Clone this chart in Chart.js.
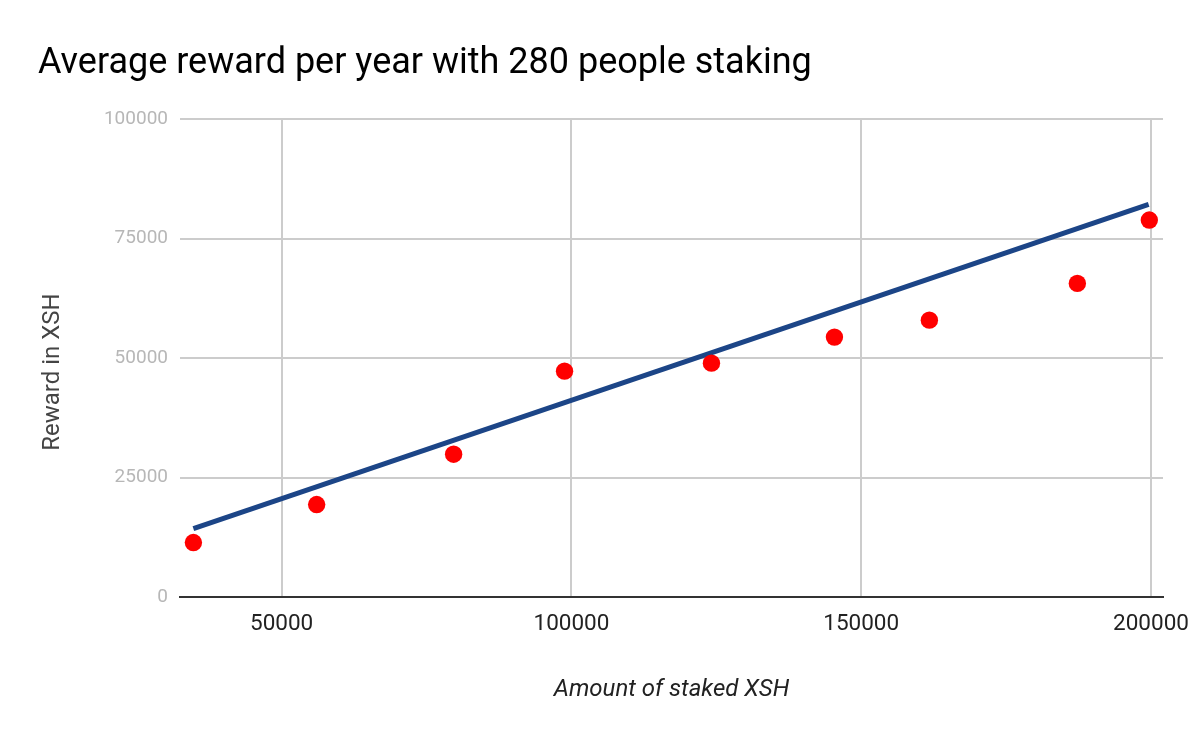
<!DOCTYPE html>
<html>
<head>
<meta charset="utf-8">
<title>Average reward per year</title>
<script src="https://cdn.jsdelivr.net/npm/chart.js@4.4.1/dist/chart.umd.min.js"></script>
<style>
  html, body { margin: 0; padding: 0; background: #fff; }
  #wrap { width: 1200px; height: 742px; position: relative; }
</style>
</head>
<body>
<div id="wrap"><canvas id="chart" width="1200" height="742"></canvas></div>
<script>
'use strict';

// ── data ──
const stakedXsh = [34770, 56040, 79670, 98810, 124160, 145380, 161760, 187290, 199710];
const rewardXsh = [11390, 19340, 29870, 47250, 48920, 54370, 57920, 65610, 78860];
const trendX = [34770, 199590];
const trendY = [14320, 82140];
const xTicks = [50000, 100000, 150000, 200000];
const yTicks = [0, 25000, 50000, 75000, 100000];

const chartTitle = 'Average reward per year with 280 people staking';
const xTitle = 'Amount of staked XSH';
const yTitle = 'Reward in XSH';

const FONT = 'Roboto, "Noto Sans", Arial, sans-serif';

// titles drawn at fixed spots, like the Google chart
const textPlugin = {
    id: 'texts',
    afterDraw(chart) {
        const { ctx, chartArea } = chart;
        ctx.save();
        ctx.fillStyle = '#000';
        ctx.font = `36px ${FONT}`;
        ctx.textAlign = 'left';
        ctx.textBaseline = 'alphabetic';
        ctx.fillText(chartTitle, 38, 73);

        ctx.fillStyle = '#222';
        ctx.font = `italic 24px ${FONT}`;
        ctx.textAlign = 'center';
        ctx.textBaseline = 'middle';
        ctx.fillText(xTitle, (chartArea.left + chartArea.right) / 2, 690);

        ctx.fillStyle = '#444';
        ctx.font = `24px ${FONT}`;
        ctx.translate(53, 372);
        ctx.rotate(-Math.PI / 2);
        ctx.fillText(yTitle, 0, 0);
        ctx.restore();
    }
};

const ctx = document.getElementById('chart');
new Chart(ctx, {
    type: 'scatter',
    data: {
        datasets: [
            {
                label: 'Trend',
                data: trendX.map((x, i) => ({ x, y: trendY[i] })),
                showLine: true,
                borderColor: '#1c4587',
                borderWidth: 5,
                pointRadius: 0,
                order: 1
            },
            {
                label: 'Reward',
                data: stakedXsh.map((x, i) => ({ x, y: rewardXsh[i] })),
                backgroundColor: '#ff0000',
                borderWidth: 0,
                pointRadius: 8.7,
                order: 0
            }
        ]
    },
    options: {
        responsive: false,
        animation: false,
        layout: { padding: { left: 0, top: 119, right: 37, bottom: 0 } },
        plugins: {
            legend: { display: false },
            tooltip: { enabled: false },
            title: { display: false }
        },
        scales: {
            x: {
                type: 'linear',
                min: 32460,
                max: 202070,
                afterBuildTicks: s => { s.ticks = xTicks.map(v => ({ value: v })); },
                afterFit: s => { s.height = 145; s.paddingLeft = 0; s.paddingRight = 0; },
                ticks: {
                    color: '#222',
                    font: { family: FONT, size: 22.5 },
                    padding: 14,
                    maxRotation: 0,
                    callback: v => String(v)
                },
                grid: { color: '#cccccc', lineWidth: 2, drawTicks: false },
                border: { display: true, color: '#333', width: 2 }
            },
            y: {
                min: 0,
                max: 100000,
                afterBuildTicks: s => { s.ticks = yTicks.map(v => ({ value: v })); },
                afterFit: s => { s.width = 180; },
                ticks: {
                    color: '#b7b7b7',
                    font: { family: FONT, size: 19 },
                    padding: 12,
                    callback: v => String(v)
                },
                grid: { color: '#cccccc', lineWidth: 2, drawTicks: false },
                border: { display: false }
            }
        }
    },
    plugins: [textPlugin]
});
</script>
</body>
</html>
